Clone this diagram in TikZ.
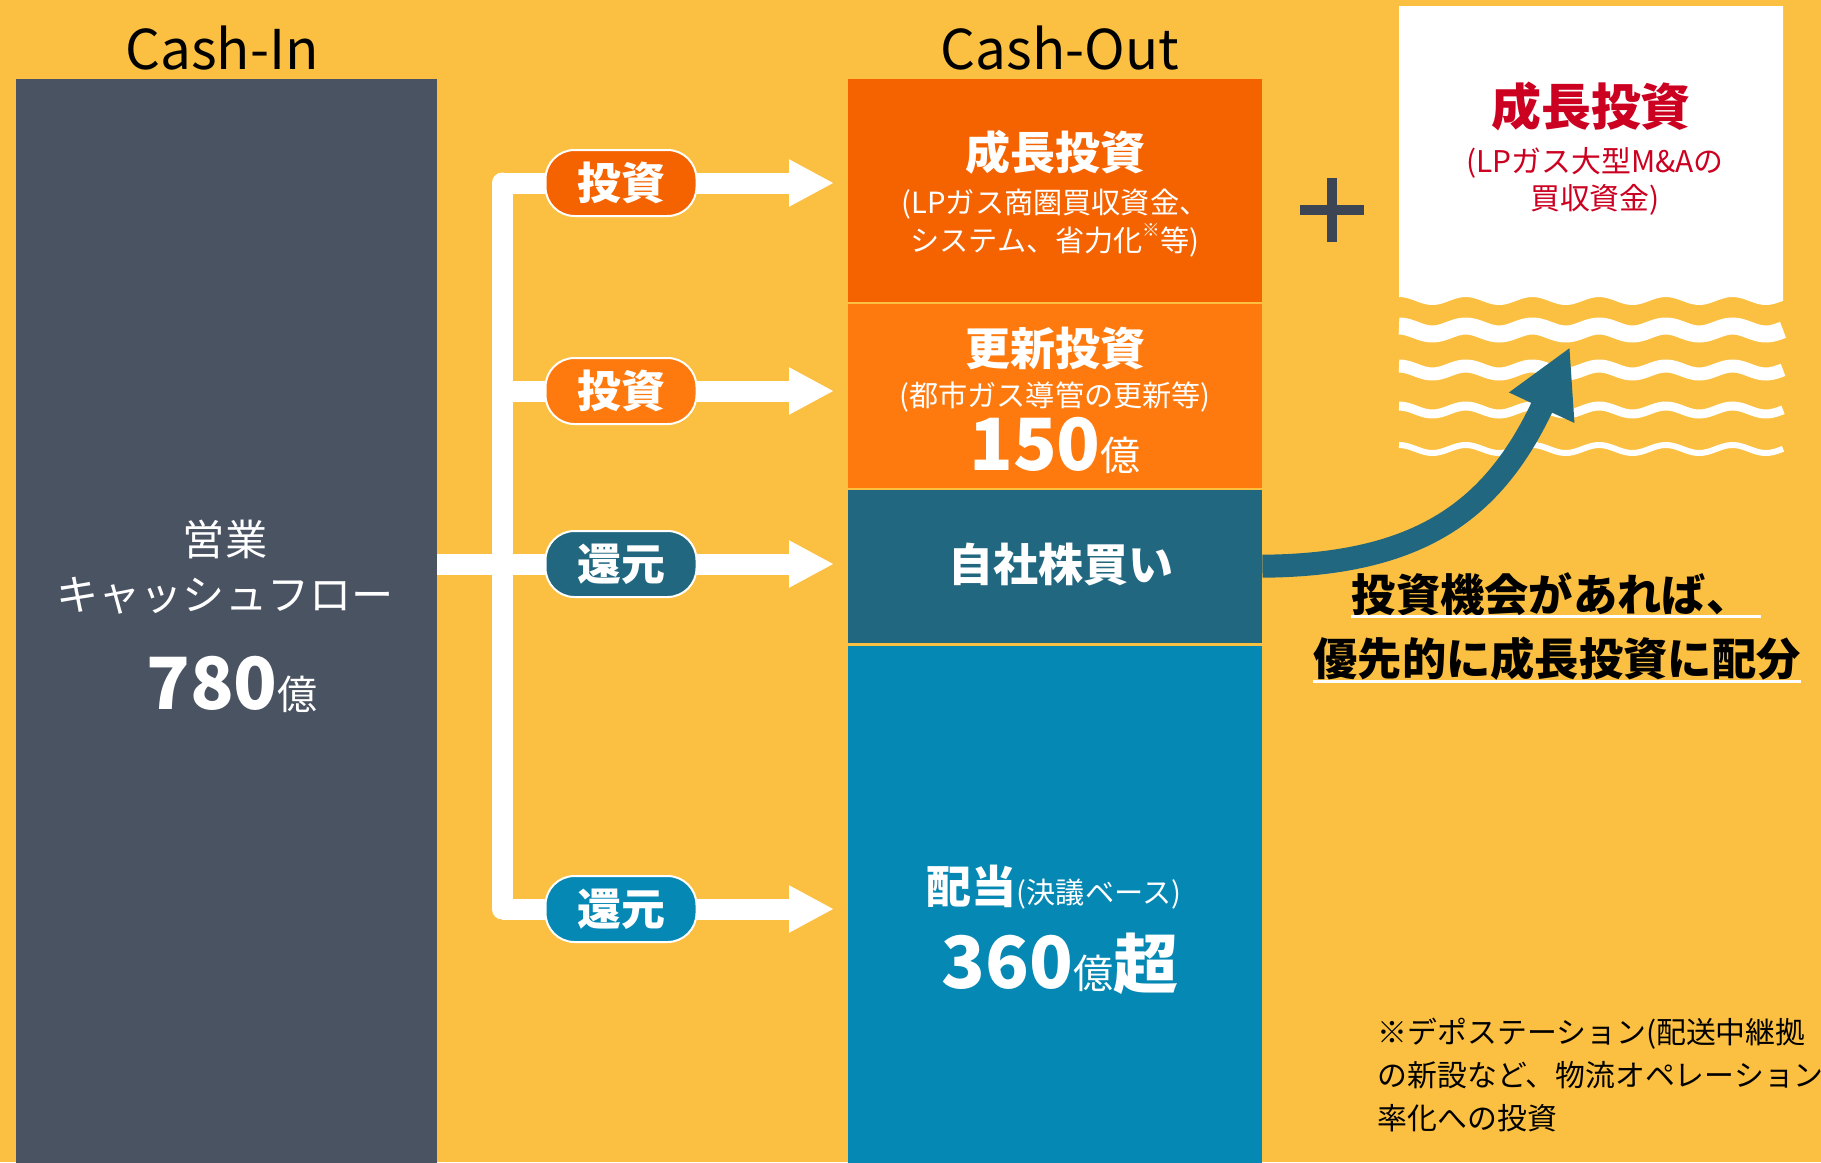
\documentclass[tikz,border=0pt]{standalone}
\usepackage{fontspec}
\setmainfont{Noto Sans CJK JP}
\usetikzlibrary{arrows.meta,positioning}
\definecolor{cSun}{HTML}{FBC041}
\definecolor{cSlate}{HTML}{4A5362}
\definecolor{cFlame}{HTML}{F56300}
\definecolor{cAmber}{HTML}{FE7A0E}
\definecolor{cTeal}{HTML}{21677F}
\definecolor{cSea}{HTML}{0688B4}
\definecolor{cRed}{HTML}{CC0020}
\definecolor{cInk}{HTML}{3C4553}
\newcommand{\fsz}[2]{\fontsize{#1}{#2}\selectfont}
\newcommand{\oku}{{\fsz{11.4}{13}\mdseries 億}}
\tikzset{
  outbox/.style={fill=#1,anchor=north west,minimum width=41.4mm,inner sep=0pt},
  tagpill/.style={fill=#1,draw=white,line width=0.2mm,rounded corners=2.9mm,minimum width=15.1mm,minimum height=6.6mm,inner sep=0pt,text=white,font=\fsz{12.5}{15}\bfseries},
  whitebar/.style={draw=white,line width=2.1mm},
  whitearr/.style={whitebar,-{Triangle[length=4.5mm,width=4.4mm]},shorten >=1.3mm},
  colhead/.style={font=\fsz{15.6}{18},anchor=base,inner sep=0pt},
  blocktitle/.style={text=white,font=\fsz{12.8}{15}\bfseries,inner sep=0pt},
  blocknote/.style={text=white,font=\fsz{8.3}{10.8},align=center,inner sep=0pt},
  cashtext/.style={text=white,font=\fsz{12}{14},inner sep=0pt},
  amount/.style={text=white,font=\fsz{20.5}{24}\bfseries,inner sep=0pt,anchor=base},
  callout/.style={font=\fsz{12.6}{15}\bfseries,inner sep=0pt},
  stripe/.style={draw=white,line width=#1},
}
\begin{document}
\begin{tikzpicture}[x=0.1mm,y=-0.1mm]
  \useasboundingbox (0,0) rectangle (1821,1162);
  \clip (0,0) rectangle (1821,1162);
  \fill[cSun] (0,0) rectangle (1821,1162);
  % cash-in column
  \node[outbox=cSlate,minimum width=42.1mm,minimum height=108.4mm] (cashin) at (15,78) {};
  \node[colhead] (inlbl) at (222,69) {Cash-In};
  \node[cashtext] (cfT) at (225,539) {営業};
  \node[cashtext] (cfN) at (225,596) {キャッシュフロー};
  \node[amount] (cfA) at (232,709) {780\oku};
  % cash-out column
  \node[colhead] (outlbl) at (1060,69) {Cash-Out};
  \node[outbox=cFlame,minimum height=22.3mm] (grow) at (847,78) {};
  \node[outbox=cAmber,minimum height=18.4mm] (renew) at (847,303) {};
  \node[outbox=cTeal,minimum height=15.3mm] (buyback) at (847,489) {};
  \node[outbox=cSea,minimum height=51.7mm] (divid) at (847,645) {};
  \node[blocktitle] (growT) at (1055,152) {成長投資};
  \node[blocknote] (growN) at (1055,223) {(LPガス商圏買収資金、\\システム、省力化{\raisebox{.5em}{\fsz{5}{5}※}}等)};
  \node[blocktitle] (renewT) at (1055,348) {更新投資};
  \node[blocknote] (renewN) at (1055,397) {(都市ガス導管の更新等)};
  \node[amount] (renewA) at (1055,470) {150\oku};
  \node[blocktitle] (buyT) at (1061,564) {自社株買い};
  \node[blocktitle,anchor=base] (dividT) at (1054,903) {配当{\fsz{8.3}{10}\mdseries(決議ベース)}};
  \node[amount] (dividA) at (1060,988) {360\oku{\fsz{18.5}{20}超}};
  % white branches
  \coordinate (r1) at (502,183);
  \coordinate (r2) at (502,391);
  \coordinate (r3) at (502,564);
  \coordinate (r4) at (502,909);
  \draw[whitebar] (cashin.east |- r3) -- (r3);
  \draw[whitebar,line cap=round] (r1) -- (r4);
  \foreach \r/\b in {r1/grow,r2/renew,r3/buyback,r4/divid}
    \draw[whitearr] (\r) -- (\r -| \b.west);
  \node[tagpill=cFlame] (t1) at (621,183) {投資};
  \node[tagpill=cAmber] (t2) at (621,391) {投資};
  \node[tagpill=cTeal] (t3) at (621,564) {還元};
  \node[tagpill=cSea] (t4) at (621,909) {還元};
  % plus sign
  \draw[cInk,line width=0.95mm] (1300,210) -- (1364,210) (1332,178) -- (1332,242);
  % M&A sheet with wavy edge (period about 66.7, i.e. 5.397 deg per unit)
  \fill[white] (1399,6) -- (1783,6) -- (1783,301)
    -- plot[domain=1783:1399,samples=120,smooth] (\x,{301-4*cos(5.397*(\x-1399))}) -- cycle;
  \foreach \y/\w in {330/1.7,370/1.3,410/0.9,449/0.6}
    \draw[stripe=\w mm] plot[domain=1399:1783,samples=120,smooth] (\x,{\y-4*cos(5.397*(\x-1399))});
  \node[font=\fsz{14.2}{17}\bfseries,text=cRed,inner sep=0pt] (mnaT) at (1591,106) {成長投資};
  \node[font=\fsz{8.5}{10.5},text=cRed,align=center,inner sep=0pt] (mnaN) at (1595,181) {(LPガス大型M\&Aの\\買収資金)};
  % buyback -> growth arrow
  \draw[cTeal,line width=2.3mm,-{Triangle[length=6.7mm,width=6.7mm]}] (buyback.east)
    .. controls (1420,565) and (1494,510) .. (1570,347);
  \node[callout] (chance) at (1551,594) {投資機会があれば、};
  \node[callout] (prior) at (1557,659) {優先的に成長投資に配分};
  \draw[white,line width=0.3mm] (chance.south west) -- ([xshift=1mm]chance.south east);
  \draw[white,line width=0.3mm] (prior.south west) -- (prior.south east);
  % footnote (base = last line)
  \node[anchor=base west,font=\fsz{8.5}{12.2},align=left,inner sep=0pt] (note) at (1377,1129)
    {※デポステーション(配送中継拠\\の新設など、物流オペレーション\\率化への投資};
\end{tikzpicture}
\end{document}
